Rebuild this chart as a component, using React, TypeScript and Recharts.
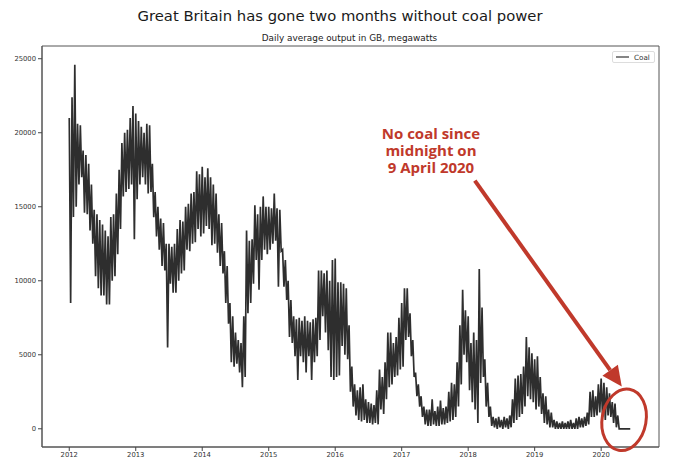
import React from 'react'
import {
  LineChart,
  Line,
  XAxis,
  YAxis,
  Legend,
  ReferenceArea,
  ReferenceDot,
  ReferenceLine,
} from 'recharts'

// Coal output in GB, MW. Two readings per half-month (upper and lower edge of the daily band),
// Jan 2012 .. mid June 2020.
const startYear = 2012
const halfMonth = 1 / 24

const highMW = [
  // 2012
  21000, 22400, 24600, 20600, 20500, 18800, 18500, 17900, 16500, 14800, 14500, 14100,
  13800, 13400, 13000, 14300, 14500, 15900, 17500, 19300, 20000, 20200, 21000, 21800,
  // 2013
  21300, 20800, 20400, 20000, 20600, 20500, 17900, 16000, 15000, 14200, 13900, 12500,
  12500, 12300, 12500, 13500, 14100, 14000, 15000, 15200, 15900, 16000, 17400, 17200,
  // 2014
  17700, 17000, 17600, 17000, 16500, 15900, 14500, 13900, 12000, 11000, 8500, 7600,
  6500, 6000, 5800, 7600, 13400, 12700, 12800, 15100, 14500, 15000, 15700, 15000,
  // 2015
  15000, 14900, 15900, 14900, 14800, 12100, 11400, 10000, 8700, 7600, 7400, 7500,
  7300, 7600, 7300, 7200, 7400, 7500, 10700, 10700, 10500, 10700, 10000, 11400,
  // 2016
  11500, 9900, 9900, 9800, 9500, 7000, 4200, 3000, 2600, 2800, 3000, 2000,
  1800, 1700, 1600, 2600, 4000, 3500, 4500, 6500, 6500, 5800, 6200, 7500,
  // 2017
  8500, 9500, 9500, 7800, 6000, 3800, 3000, 2200, 1500, 1300, 1300, 2000,
  1200, 1500, 1900, 1400, 1500, 2500, 3100, 3000, 4500, 7000, 9400, 8000,
  // 2018
  7600, 5800, 6500, 6000, 10800, 8200, 4700, 3100, 1500, 800, 700, 800,
  600, 800, 700, 900, 2000, 3400, 3600, 3700, 4200, 6200, 5500, 5100,
  // 2019
  4700, 4900, 3500, 2400, 2200, 1300, 1100, 600, 500, 400, 500, 400,
  500, 600, 400, 700, 800, 700, 800, 1100, 2500, 2600, 2200, 3000,
  // 2020
  3400, 3100, 2800, 2400, 1800, 1700, 900, 0, 0, 0, 0,
]

const lowMW = [
  // 2012
  8500, 14300, 15000, 16500, 17000, 14600, 14500, 13400, 12500, 10300, 9500, 9000,
  9000, 8400, 8400, 10000, 10300, 11800, 13500, 15700, 16000, 16200, 16500, 12800,
  // 2013
  15500, 16500, 17000, 16500, 15900, 16000, 14300, 13000, 12100, 11000, 10700, 5500,
  9800, 9200, 9200, 10000, 10500, 10700, 12100, 12000, 12500, 12600, 13500, 13000,
  // 2014
  13200, 13700, 13500, 12400, 12500, 11900, 11000, 10500, 8500, 7100, 4500, 4200,
  4400, 3800, 2800, 3500, 7800, 8500, 9800, 11400, 9400, 11400, 12100, 11800,
  // 2015
  12100, 12500, 12700, 9600, 12000, 9600, 8700, 6200, 5800, 4900, 3300, 4900,
  4500, 3800, 4900, 3300, 4500, 4900, 6000, 7600, 6500, 5300, 3500, 3300,
  // 2016
  3500, 3600, 5600, 5000, 4700, 2500, 1500, 900, 600, 500, 600, 400,
  400, 300, 400, 300, 1300, 1000, 2000, 2800, 3000, 3500, 3600, 4000,
  // 2017
  4200, 6000, 6200, 4900, 3500, 2200, 1500, 800, 300, 200, 200, 300,
  200, 200, 300, 300, 400, 500, 600, 800, 1500, 3000, 5000, 4500,
  // 2018
  2600, 1800, 1300, 400, 3100, 3500, 1500, 800, 200, 100, 0, 100,
  0, 100, 0, 100, 400, 600, 800, 1000, 1500, 2200, 2000, 1800,
  // 2019
  1300, 1500, 1000, 400, 300, 100, 100, 0, 0, 0, 0, 0,
  0, 0, 0, 0, 100, 100, 200, 300, 800, 800, 900, 1100,
  // 2020
  800, 600, 900, 800, 400, 100, 0, 0, 0, 0, 0,
]

const yearTicks = [2012, 2013, 2014, 2015, 2016, 2017, 2018, 2019, 2020]
const mwTicks = [0, 5000, 10000, 15000, 20000, 25000]
const xDomain = [2011.59, 2020.87]
const yDomain = [-1230, 25860]

const data = highMW.flatMap((hi, i) => [
  { t: startYear + i * halfMonth, coal: hi },
  { t: startYear + i * halfMonth + halfMonth / 2, coal: lowMW[i] },
])

const RED = '#c0392b'
const tickStyle = { fontSize: 6.8, fill: '#333', fontFamily: 'DejaVu Sans' }

function Arrow(p: any) {
  const { x1, y1, x2, y2 } = p
  const dx = x2 - x1
  const dy = y2 - y1
  const len = Math.sqrt(dx * dx + dy * dy)
  const ux = dx / len
  const uy = dy / len
  const bx = x2 - ux * 20
  const by = y2 - uy * 20
  const px = -uy * 9.5
  const py = ux * 9.5
  return (
    <g>
      <line x1={x1} y1={y1} x2={bx} y2={by} stroke={RED} strokeWidth={4} />
      <polygon points={`${x2},${y2} ${bx + px},${by + py} ${bx - px},${by - py}`} fill={RED} />
    </g>
  )
}

function Note(p: any) {
  const lines = ['No coal since', 'midnight on', '9 April 2020']
  return (
    <g>
      {lines.map((s, i) => (
        <text
          key={s}
          x={p.cx}
          y={p.cy + i * 16.8}
          textAnchor="middle"
          fill={RED}
          fontFamily="Open Sans"
          fontWeight="bold"
          fontSize={15}
        >
          {s}
        </text>
      ))}
    </g>
  )
}

function Ring(p: any) {
  return (
    <ellipse
      cx={p.cx}
      cy={p.cy}
      rx={22}
      ry={31}
      fill="none"
      stroke={RED}
      strokeWidth={3}
      transform={`rotate(10 ${p.cx} ${p.cy})`}
    />
  )
}

function LegendBox({ payload }: any) {
  const name = payload && payload.length ? payload[0].value : 'Coal'
  return (
    <div
      style={{
        border: '1px solid #ddd',
        borderRadius: 2,
        background: '#fff',
        height: 12,
        display: 'flex',
        alignItems: 'center',
        fontFamily: 'DejaVu Sans',
        fontSize: 7.2,
        color: '#333',
        boxSizing: 'border-box',
        paddingLeft: 3,
      }}
    >
      <svg width={13} height={4} style={{ marginRight: 5 }}>
        <line x1={0} y1={2} x2={13} y2={2} stroke="#333" strokeWidth={1.2} />
      </svg>
      <span>{name}</span>
    </div>
  )
}

export default function App() {
  return (
    <div style={{ position: 'relative', width: 680, height: 473, background: '#fff' }}>
      <style>{'body{margin:0}'}</style>
      <LineChart
        width={680}
        height={473}
        data={data}
        margin={{ top: 46, right: 21, bottom: 0, left: 0 }}
      >
        <XAxis
          dataKey="t"
          type="number"
          domain={xDomain}
          ticks={yearTicks}
          allowDataOverflow
          height={26}
          tick={tickStyle}
          tickSize={4}
          tickMargin={1}
          axisLine={{ stroke: '#555' }}
          tickLine={{ stroke: '#444' }}
        />
        <YAxis
          type="number"
          domain={yDomain}
          ticks={mwTicks}
          allowDataOverflow
          width={42}
          tick={tickStyle}
          tickSize={4}
          tickMargin={2}
          axisLine={{ stroke: '#555' }}
          tickLine={{ stroke: '#444' }}
        />
        <ReferenceArea
          x1={xDomain[0]}
          x2={xDomain[1]}
          y1={yDomain[0]}
          y2={yDomain[1]}
          fill="none"
          stroke="#555"
          strokeWidth={1}
          ifOverflow="visible"
        />
        <Line
          type="linear"
          dataKey="coal"
          name="Coal"
          stroke="#2e2e2e"
          strokeWidth={1.7}
          strokeLinejoin="miter"
          dot={false}
          isAnimationActive={false}
        />
        <ReferenceLine
          segment={[
            { x: 2018.1, y: 16760 },
            { x: 2020.31, y: 2860 },
          ]}
          shape={(p: any) => <Arrow {...p} />}
        />
        <ReferenceDot x={2020.345} y={608} shape={(p: any) => <Ring {...p} />} />
        <ReferenceDot x={2017.44} y={19560} shape={(p: any) => <Note {...p} />} />
        <Legend
          layout="horizontal"
          verticalAlign="middle"
          align="center"
          wrapperStyle={{ top: 51, left: 612, width: 43, height: 12 }}
          content={(props: any) => <LegendBox {...props} />}
        />
      </LineChart>
      <svg
        width={680}
        height={50}
        style={{ position: 'absolute', left: 0, top: 0, pointerEvents: 'none' }}
      >
        <text x={340} y={21} textAnchor="middle" fontFamily="DejaVu Sans" fontSize={14.8} fill="#1a1a1a">
          Great Britain has gone two months without coal power
        </text>
        <text x={349.5} y={41} textAnchor="middle" fontFamily="DejaVu Sans" fontSize={8.9} fill="#222">
          Daily average output in GB, megawatts
        </text>
      </svg>
    </div>
  )
}
